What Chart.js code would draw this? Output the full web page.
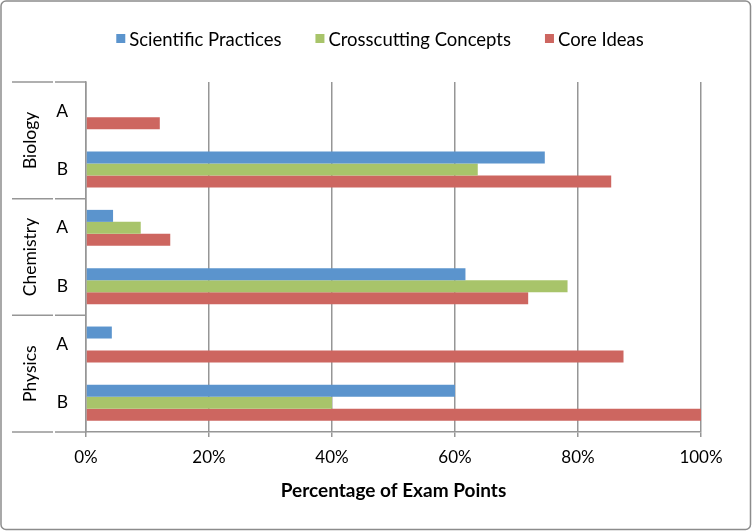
<!DOCTYPE html>
<html><head><meta charset="utf-8">
<script src="https://cdn.jsdelivr.net/npm/chart.js@4"></script>
<style>html,body{margin:0;padding:0;background:#fff}</style>
</head><body>
<canvas id="c" width="752" height="531"></canvas>
<script>
const rowLabels = ['A', 'B', 'A', 'B', 'A', 'B'];
const groupLabels = ['Biology', 'Chemistry', 'Physics'];
const seriesNames = ['Scientific Practices', 'Crosscutting Concepts', 'Core Ideas'];
const scientificPractices = [0, 74.6, 4.4, 61.7, 4.2, 60];
const crosscuttingConcepts = [0, 63.7, 8.9, 78.3, 0, 40];
const coreIdeas = [12, 85.4, 13.7, 71.9, 87.4, 100];
const xTickValues = [0, 20, 40, 60, 80, 100];
const axisTitle = 'Percentage of Exam Points';

const colors = ['#5b94cd', '#a8c46a', '#cd6660'];
const lineColor = '#969696';
const FONT = 'Lato';

const decor = {
  id: 'decor',
  afterDraw(chart) {
    const {ctx, chartArea: a, scales: {y}} = chart;
    ctx.save();
    // group separators on the category axis
    const step = y.getPixelForValue(1) - y.getPixelForValue(0);
    const bounds = [];
    for (let g = 0; g <= groupLabels.length; g++) {
      bounds.push(y.getPixelForValue(0) + (g * 2 - 0.5) * step);
    }
    ctx.strokeStyle = lineColor;
    ctx.lineWidth = 1.5;
    bounds.forEach(py => {
      ctx.beginPath();
      ctx.moveTo(12, py); ctx.lineTo(53, py);
      ctx.moveTo(55, py); ctx.lineTo(a.left, py);
      ctx.stroke();
    });
    // group labels
    ctx.fillStyle = '#000';
    ctx.font = '17.5px ' + FONT;
    ctx.textAlign = 'center';
    ctx.textBaseline = 'middle';
    groupLabels.forEach((t, g) => {
      const cy = (bounds[g] + bounds[g + 1]) / 2;
      ctx.save();
      ctx.translate(30, cy);
      ctx.rotate(-Math.PI / 2);
      ctx.fillText(t, 0, 0);
      ctx.restore();
    });
    // legend
    ctx.font = '18.5px ' + FONT;
    ctx.textAlign = 'left';
    const box = 9, gap = 4, spacing = 34;
    const widths = seriesNames.map(s => ctx.measureText(s).width);
    const total = widths.reduce((s, w) => s + box + gap + w, 0) + spacing * (seriesNames.length - 1);
    let x = 380 - total / 2;
    const ly = 40.5;
    seriesNames.forEach((s, i) => {
      ctx.fillStyle = colors[i];
      ctx.fillRect(x, ly - 6.5, box, box);
      ctx.fillStyle = '#000';
      ctx.fillText(s, x + box + gap, ly);
      x += box + gap + widths[i] + spacing;
    });
    // outer frame
    ctx.strokeStyle = '#8c8c8c';
    ctx.lineWidth = 1.5;
    ctx.beginPath();
    if (ctx.roundRect) ctx.roundRect(1, 1, 749.5, 528.5, 5); else ctx.rect(1, 1, 749.5, 528.5);
    ctx.stroke();
    ctx.restore();
  }
};

new Chart(document.getElementById('c'), {
  type: 'bar',
  data: {
    labels: rowLabels,
    datasets: [
      {label: seriesNames[0], data: scientificPractices, backgroundColor: colors[0]},
      {label: seriesNames[1], data: crosscuttingConcepts, backgroundColor: colors[1]},
      {label: seriesNames[2], data: coreIdeas, backgroundColor: colors[2]}
    ]
  },
  options: {
    indexAxis: 'y',
    responsive: false,
    animation: false,
    devicePixelRatio: 1,
    datasets: {bar: {categoryPercentage: 0.616, barPercentage: 1}},
    layout: {padding: {left: 0, right: 51, top: 82, bottom: 0}},
    plugins: {legend: {display: false}, tooltip: {enabled: false}},
    scales: {
      x: {
        type: 'linear', min: 0, max: 100,
        afterBuildTicks(scale) { scale.ticks = xTickValues.map(v => ({value: v})); },
        afterFit(scale) { scale.height = 99; },
        ticks: {callback: v => v + '%', color: '#000', font: {family: FONT, size: 17}, padding: 10},
        grid: {color: lineColor, lineWidth: 1.5, tickLength: 5, drawTicks: true},
        border: {display: true, color: lineColor, width: 1.5},
        title: {display: true, text: axisTitle, color: '#000', font: {family: FONT, size: 19, weight: 'bold'}, padding: 29}
      },
      y: {
        type: 'category', offset: true,
        afterFit(scale) { scale.width = 86; },
        ticks: {color: '#000', font: {family: FONT, size: 17.5}, padding: 18},
        grid: {display: false, drawTicks: false},
        border: {display: true, color: lineColor, width: 1.5}
      }
    }
  },
  plugins: [decor]
});
</script>
</body></html>
